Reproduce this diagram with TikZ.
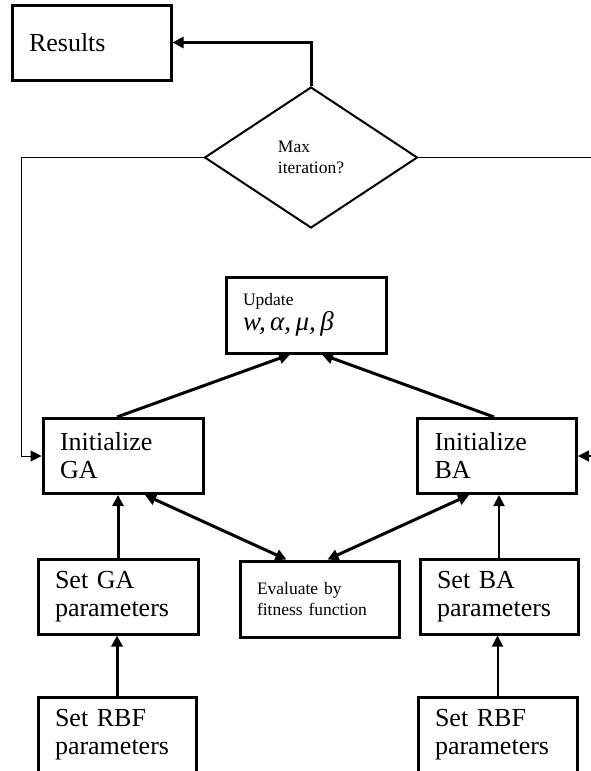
\documentclass[tikz,border=0pt]{standalone}
\usepackage{fontspec}
\setmainfont{Liberation Serif}
\usetikzlibrary{shapes.geometric,arrows.meta}

\begin{document}
\begin{tikzpicture}[x=1pt,y=-1pt,
    box/.style={draw,line width=3pt,minimum height=75pt,inner xsep=17pt,align=left},
    big/.style={font=\fontsize{26}{28}\selectfont},
    small/.style={font=\fontsize{17.5}{20.5}\selectfont},
    arr/.style={line width=3pt,-{Triangle[length=11pt,width=11pt]}},
    darr/.style={line width=3pt,{Triangle[length=11pt,width=11pt]}-{Triangle[length=11pt,width=11pt]}},
  ]
    \useasboundingbox (0,0) rectangle (591,771);
    % boxes
    \node[box,big,text width=125pt] (res) at (91.5,42.5) {Results};
    \node[draw,diamond,line width=2pt,minimum width=213pt,minimum height=141pt,inner sep=0pt,small,align=left] (max) at (311,157.5) {Max\\iteration?};
    \node[box,text width=126pt,minimum height=76pt] (upd) at (306,315) {{\fontsize{17.5}{20}\selectfont Update}\\[1pt]{\fontsize{27}{28}\selectfont\itshape w,\,α,\,μ,\,β}};
    \node[box,big,text width=126pt] (initga) at (123,456) {Initialize\\GA};
    \node[box,big,text width=125pt] (initba) at (497,456) {Initialize\\BA};
    \node[box,small,text width=125pt,minimum height=76pt] (eval) at (319.5,599) {Evaluate by\\fitness function};
    \node[box,big,text width=126pt] (setga) at (118,596.5) {Set GA\\parameters};
    \node[box,big,text width=124pt] (setba) at (499,596.5) {Set BA\\parameters};
    \node[box,big,text width=124pt] (rbfga) at (117,734.5) {Set RBF\\parameters};
    \node[box,big,text width=125pt] (rbfba) at (497.5,734.5) {Set RBF\\parameters};
    % loop ends
    \coordinate (lp) at (21,157.5);
    \coordinate (rp) at (591,157.5);
    \coordinate (rin) at (591,456);
    \draw[arr] (max.north) |- (res.east);
    \draw[line width=1pt] (max.west) -- (lp);
    \draw[arr,line width=1pt] (lp) |- (initga.west);
    \draw[line width=1.5pt] (max.east) -- (rp);
    \draw[arr,line width=1.5pt] (rin) -- (initba.east);
    % to update
    \draw[arr] ([xshift=-6pt]initga.north) -- ([xshift=-16pt]upd.south);
    \draw[arr] ([xshift=-3pt]initba.north) -- ([xshift=16pt]upd.south);
    % evaluation
    \draw[darr] ([xshift=22pt]initga.south) -- ([xshift=-33pt]eval.north);
    \draw[darr] ([xshift=-28pt]initba.south) -- ([xshift=8pt]eval.north);
    \foreach \a/\b/\w in {setga/initga/3pt, rbfga/setga/3pt, setba/initba/2pt, rbfba/setba/2pt}
      \draw[arr,line width=\w] (\a.north) -- (\a.north |- \b.south);
\end{tikzpicture}
\end{document}
